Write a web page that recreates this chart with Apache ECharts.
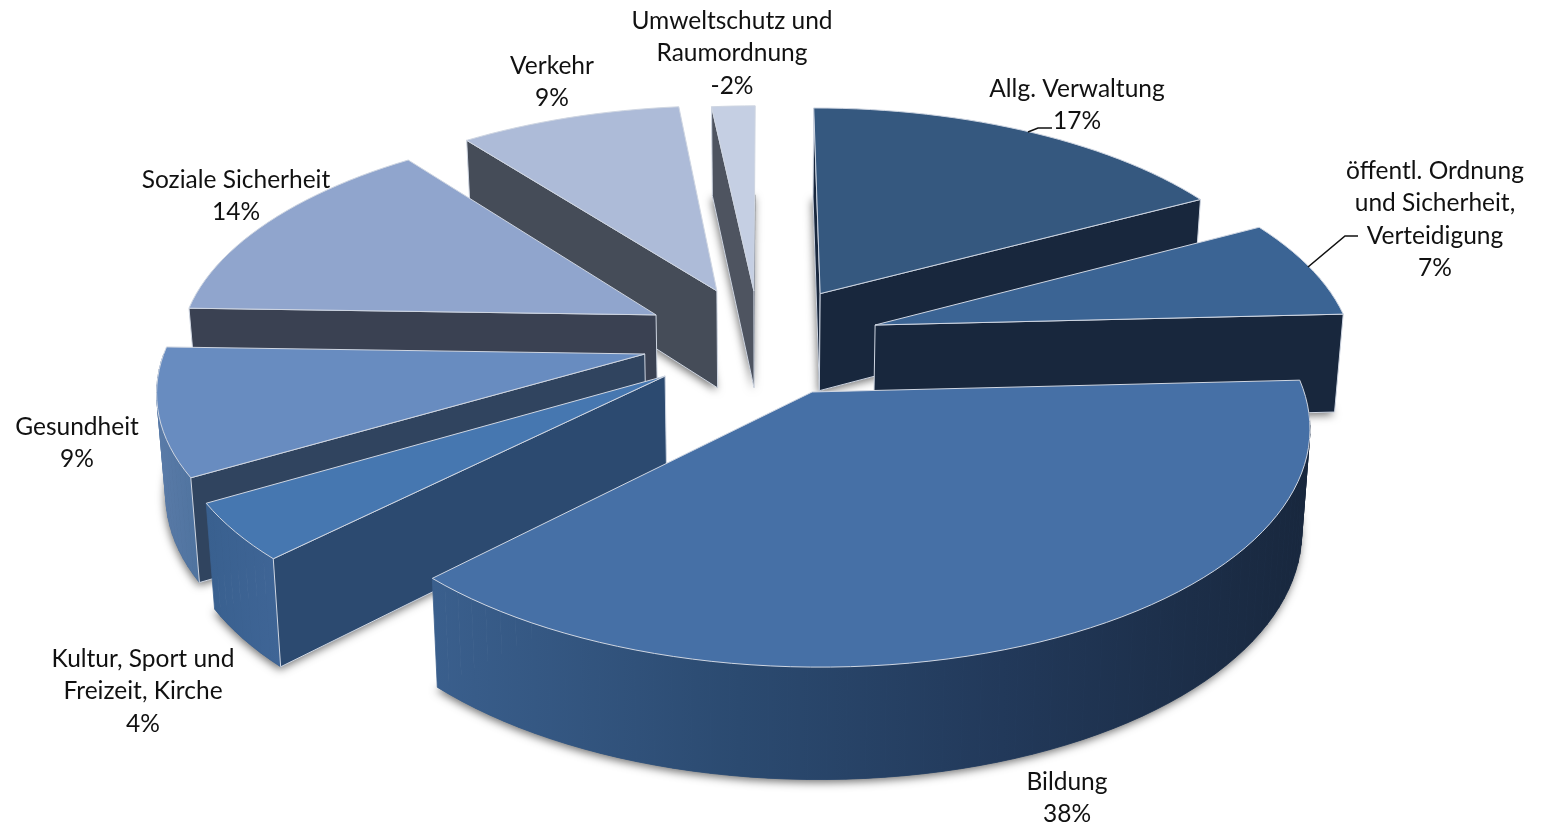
<!DOCTYPE html>
<html><head><meta charset="utf-8">
<style>html,body{margin:0;padding:0;background:#fff}#c{width:1542px;height:828px}</style>
<script src="https://cdn.jsdelivr.net/npm/echarts@6/dist/echarts.min.js"></script>
</head><body><div id="c"></div>
<script>
// ---- data ----
const categories = ["Allg. Verwaltung","öffentl. Ordnung\nund Sicherheit,\nVerteidigung","Bildung","Kultur, Sport und\nFreizeit, Kirche","Gesundheit","Soziale Sicherheit","Verkehr","Umweltschutz und\nRaumordnung"];
const values = [17.1,7.1,38.25,4.05,9,14.1,8.7,-1.7];
// ---- styles / layout ----
const explode = [[.119,-.105],[.233,.0415],[.0957,.336],[-.205,.268],[-.25,.172],[-.232,-.005],[-.104,-.118],[-.024,-.118]];
const topColors = ["#35587f","#3b6494","#4670a6","#4677b0","#688cc0","#90a5cd","#adbbd8","#c5cfe3"];
const wallColors = ["#18273d","#18273d","#355a87","#2c4a70","#30445f","#3a4152","#454c58","#4e5460"];
const outerStops = [["#18273d","#18273d"],["#1c3048","#18273d"],["#3a5f8d","#18273d"],["#39608f","#3f6596"],["#5a7ba8","#4f739f"],["#5f7399","#5f7399"],["#6f7c95","#6f7c95"],["#80899c","#80899c"]];
const labelPos = [[1077,89],[1435,171],[1067,782],[143,659],[77,427],[236,180],[552,66],[732,21]];
const leaders = {0:[[1028,132],[1038,128],[1052,128]],1:[[1308,267],[1345,236],[1358,236]]};
const drawOrder = [7,6,0,5,1,4,3,2];
const CX=765, CY=316, R=470, K=216, D=7.5, H=98, LEAN=.985, LH=32.4;

const total = values.reduce((a,v)=>a+Math.abs(v),0);
const starts = []; values.reduce((a,v,i)=>{starts[i]=a;return a+Math.abs(v)/total*360;},0);
function proj(X,Y,drop){
  const p=D/(D-Y);
  let x=CX+R*X*p, y=CY+K*Y*p;
  if(drop){ x=CX+(x-CX)*LEAN; y+=H*Math.pow(p,.7); }
  return [x,y];
}
function arcWorld(ax,ay,a0,a1){
  const out=[]; const n=Math.max(2,Math.ceil((a1-a0)/2));
  for(let s=0;s<=n;s++){const t=(a0+(a1-a0)*s/n)*Math.PI/180; out.push([ax+Math.sin(t),ay-Math.cos(t)]);}
  return out;
}
function renderSlice(params,api){
  const i=api.value(0), share=Math.abs(api.value(1))/total*360, a0=starts[i], a1=a0+share;
  const [ax,ay]=explode[i];
  const arc=arcWorld(ax,ay,a0,a1);
  const topArc=arc.map(w=>proj(w[0],w[1],false)), botArc=arc.map(w=>proj(w[0],w[1],true));
  const n=arc.length-1;
  const A=proj(ax,ay,false), Ab=proj(ax,ay,true);
  const pg=(points,style)=>({type:'polygon',shape:{points},style});
  const edge={stroke:'#cfd6e2',lineWidth:1,lineJoin:'round'};
  const children=[pg([Ab,...botArc],{fill:wallColors[i],shadowBlur:9,shadowColor:'rgba(0,0,0,.55)',shadowOffsetX:-1,shadowOffsetY:3})];
  // outer wall: front half only, drawn as quads so the silhouette is swept fully
  const f0=Math.max(a0,90), f1=Math.min(a1,270);
  if(f1>f0){
    const fa=arcWorld(ax,ay,f0,f1);
    const ft=fa.map(w=>proj(w[0],w[1],false)), fb=fa.map(w=>proj(w[0],w[1],true));
    const xs=ft.concat(fb).map(q=>q[0]), x0=Math.min(...xs), x1=Math.max(...xs);
    const stops=i===2?[{offset:0,color:"#3a5f8d"},{offset:.35,color:"#2b4a70"},{offset:.65,color:"#22395a"},{offset:1,color:"#18273d"}]
             :[{offset:0,color:outerStops[i][0]},{offset:1,color:outerStops[i][1]}];
    const grad=new echarts.graphic.LinearGradient(x0,0,x1,0,stops,true);
    // wall shadow silhouette
    for(let s=0;s<fa.length-1;s++){
      children.push(pg([ft[s],ft[s+1],fb[s+1],fb[s]],{fill:grad,stroke:grad,lineWidth:.8}));
    }
  }
  // radial walls that face the viewer
  if(Math.sin(a0*Math.PI/180)<=1e-9) children.push(pg([A,topArc[0],botArc[0],Ab],{fill:wallColors[i],...edge}));
  if(Math.sin(a1*Math.PI/180)>1e-9) children.push(pg([A,topArc[n],botArc[n],Ab],{fill:wallColors[i],...edge}));
  children.push(pg([A,...topArc],{fill:topColors[i],...edge}));
  return {type:'group',children};
}
function renderLabel(params,api){
  const i=api.value(0);
  const pct=Math.round(api.value(1))+'%';
  const [x,y]=labelPos[i];
  const kids=[{type:'text',style:{text:categories[i]+'\n'+pct,x,y:y-LH/2,align:'center',verticalAlign:'top',
    font:'24.5px Lato, "Open Sans", sans-serif',lineHeight:LH,fill:'#111'}}];
  if(leaders[i]) kids.push({type:'polyline',shape:{points:leaders[i]},style:{stroke:'#111',lineWidth:1.6,fill:null}});
  return {type:'group',children:kids};
}
const chart=echarts.init(document.getElementById('c'),null,{renderer:'canvas'});
chart.setOption({
  animation:false,backgroundColor:'#fff',
  series:[
    {type:'custom',coordinateSystem:'none',silent:true,z:2,renderItem:renderSlice,data:drawOrder.map(i=>[i,values[i]])},
    {type:'custom',coordinateSystem:'none',silent:true,z:3,renderItem:renderLabel,data:values.map((v,i)=>[i,v])}
  ]
});
</script></body></html>
